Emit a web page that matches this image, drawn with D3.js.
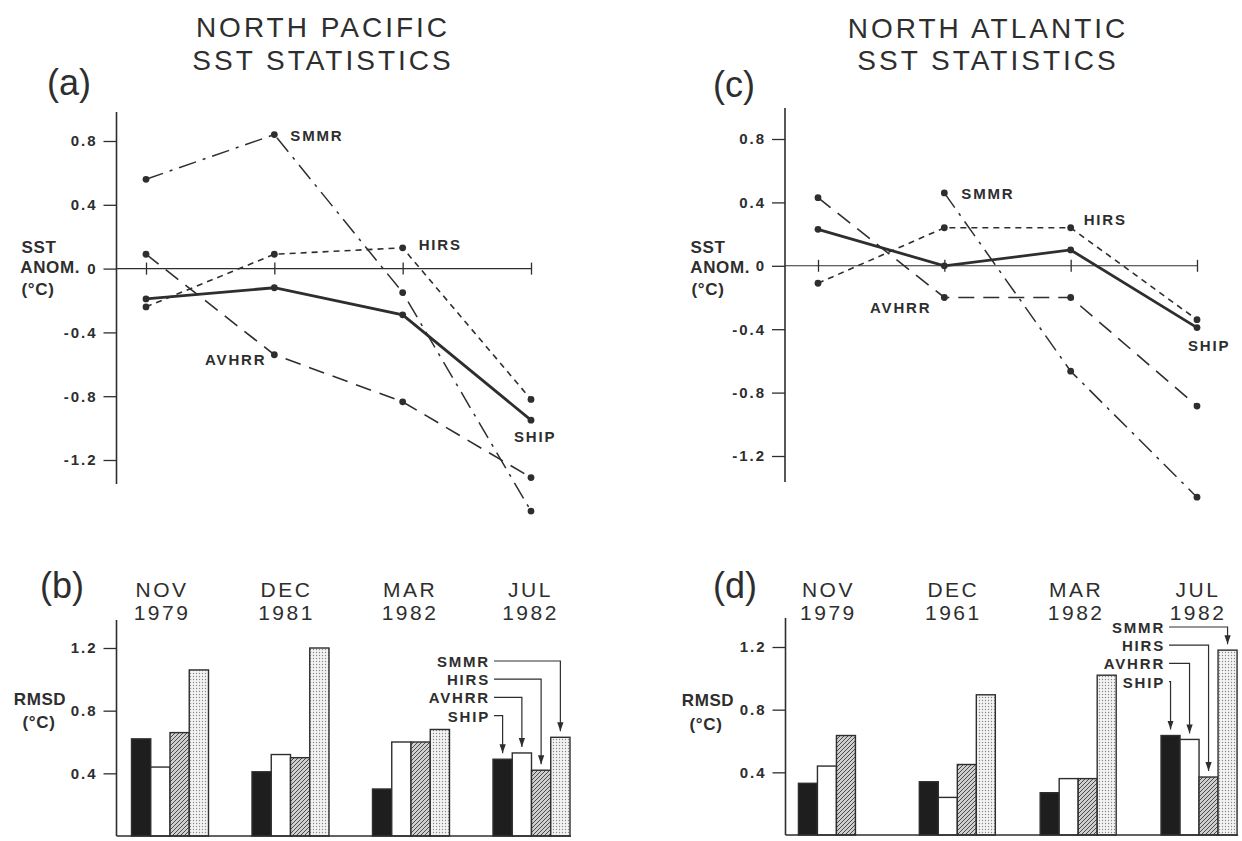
<!DOCTYPE html>
<html>
<head>
<meta charset="utf-8">
<style>
  body { margin: 0; background: #fff; }
  svg text { font-family: "Liberation Sans", Arial, sans-serif; fill: #2e2e2e; }
  .title { font-size: 28px; letter-spacing: 3px; }
  .panel { font-size: 36px; }
  .tick text { font-size: 15px; font-weight: bold; letter-spacing: 2px; }
  .tick line { stroke: #2e2e2e; stroke-width: 1.3px; }
  .lab { font-size: 15px; font-weight: bold; letter-spacing: 1.8px; }
  .axlab { font-size: 17px; font-weight: bold; letter-spacing: 0.6px; }
  .cat { font-size: 21px; letter-spacing: 2.5px; }
</style>
</head>
<body>
<script src="https://cdn.jsdelivr.net/npm/d3@7"></script>
<script>
  // categories
  var months = ["NOV", "DEC", "MAR", "JUL"];
  var yearsPac = ["1979", "1981", "1982", "1982"];
  var yearsAtl = ["1979", "1961", "1982", "1982"];   // as printed
  var sensors = ["SHIP", "AVHRR", "HIRS", "SMMR"];
  var lineTicks = [0.8, 0.4, 0, -0.4, -0.8, -1.2];
  var barTicks = [0.4, 0.8, 1.2];

  // SST anomaly (deg C), North Pacific
  var pacShip  = [-0.19, -0.12, -0.29, -0.95];
  var pacAvhrr = [0.09, -0.54, -0.835, -1.31];
  var pacHirs  = [-0.24, 0.09, 0.13, -0.82];
  var pacSmmr  = [0.56, 0.84, -0.15, -1.52];

  // SST anomaly (deg C), North Atlantic
  var atlShip  = [0.23, 0.0, 0.10, -0.39];
  var atlAvhrr = [0.43, -0.20, -0.20, -0.885];
  var atlHirs  = [-0.11, 0.24, 0.24, -0.34];
  var atlSmmr  = [null, 0.46, -0.665, -1.46];

  // RMSD (deg C), North Pacific
  var pacRmsdShip  = [0.62, 0.41, 0.30, 0.49];
  var pacRmsdAvhrr = [0.44, 0.52, 0.60, 0.53];
  var pacRmsdHirs  = [0.66, 0.50, 0.60, 0.42];
  var pacRmsdSmmr  = [1.06, 1.20, 0.68, 0.63];

  // RMSD (deg C), North Atlantic
  var atlRmsdShip  = [0.33, 0.34, 0.27, 0.635];
  var atlRmsdAvhrr = [0.44, 0.24, 0.36, 0.61];
  var atlRmsdHirs  = [0.635, 0.45, 0.36, 0.37];
  var atlRmsdSmmr  = [null, 0.895, 1.02, 1.18];

  var ink = "#2e2e2e";

  var svg = d3.select("body").append("svg")
      .attr("width", 1242)
      .attr("height", 841);

  var defs = svg.append("defs");

  var hatch = defs.append("pattern")
      .attr("id", "hatch")
      .attr("patternUnits", "userSpaceOnUse")
      .attr("width", 4).attr("height", 4);
  hatch.append("rect").attr("width", 4).attr("height", 4).attr("fill", "#cfcfcf");
  hatch.append("path")
      .attr("d", "M-1,1 l2,-2 M0,4 l4,-4 M3,5 l2,-2")
      .attr("stroke", "#4a4a4a").attr("stroke-width", 1);

  var dots = defs.append("pattern")
      .attr("id", "dots")
      .attr("patternUnits", "userSpaceOnUse")
      .attr("width", 3).attr("height", 3);
  dots.append("rect").attr("width", 3).attr("height", 3).attr("fill", "#f3f3f3");
  dots.append("circle").attr("cx", 1.5).attr("cy", 1.5).attr("r", 0.7).attr("fill", "#8a8a8a");

  defs.append("marker")
      .attr("id", "arrow")
      .attr("viewBox", "0 0 10 10")
      .attr("refX", 10).attr("refY", 5)
      .attr("markerWidth", 9).attr("markerHeight", 9)
      .attr("markerUnits", "userSpaceOnUse")
      .attr("orient", "auto")
    .append("path")
      .attr("d", "M0,1.5 L10,5 L0,8.5 Z")
      .attr("fill", ink);

  var lineStyle = {
    SHIP:  { w: 2.8, dash: null },
    AVHRR: { w: 1.6, dash: "16,9" },
    HIRS:  { w: 1.6, dash: "6,5" },
    SMMR:  { w: 1.5, dash: "18,7,3,7" }
  };
  var barFill = { SHIP: "#1e1e1e", AVHRR: "#ffffff", HIRS: "url(#hatch)", SMMR: "url(#dots)" };

  function tickFmt(d) {
    return d === 0 ? "0" : (d < 0 ? "-" : "") + Math.abs(d).toFixed(1);
  }

  function text(x, y, s, cls, anchor) {
    return svg.append("text")
      .attr("x", x).attr("y", y)
      .attr("class", cls)
      .attr("text-anchor", anchor || "middle")
      .text(s);
  }

  // ---------- line panels (a), (c) ----------
  function drawLines(cfg) {
    var x = d3.scalePoint().domain(months).range(cfg.xr);
    var y = d3.scaleLinear().domain([-1.2, 0.8]).range(cfg.yr);
    var g = svg.append("g");

    var ya = g.append("g")
        .attr("transform", "translate(" + cfg.ax + ",0)")
        .call(d3.axisLeft(y).tickValues(lineTicks).tickSizeInner(13).tickSizeOuter(0)
              .tickPadding(6).tickFormat(tickFmt));
    ya.select(".domain").remove();
    g.append("line")
        .attr("x1", cfg.ax).attr("x2", cfg.ax)
        .attr("y1", cfg.top).attr("y2", cfg.bottom)
        .attr("stroke", ink).attr("stroke-width", 1.6);

    // zero line with crossing ticks
    var xa = g.append("g")
        .attr("transform", "translate(0," + (y(0) - 6) + ")")
        .call(d3.axisBottom(x).tickSizeInner(12).tickSizeOuter(0).tickFormat(""));
    xa.select(".domain").remove();
    g.append("line")
        .attr("x1", cfg.ax).attr("x2", cfg.xr[1])
        .attr("y1", y(0)).attr("y2", y(0))
        .attr("stroke", ink).attr("stroke-width", 1.1);

    var line = d3.line()
        .defined(function (d) { return d != null; })
        .x(function (d, i) { return x(months[i]); })
        .y(function (d) { return y(d); });

    sensors.forEach(function (s) {
      var vals = cfg.series[s];
      g.append("path")
          .attr("d", line(vals))
          .attr("fill", "none")
          .attr("stroke", ink)
          .attr("stroke-width", lineStyle[s].w)
          .attr("stroke-dasharray", lineStyle[s].dash);
      g.selectAll(null)
          .data(vals.map(function (v, i) { return { m: months[i], v: v }; })
                    .filter(function (d) { return d.v != null; }))
        .join("circle")
          .attr("cx", function (d) { return x(d.m); })
          .attr("cy", function (d) { return y(d.v); })
          .attr("r", 3.4)
          .attr("fill", ink);

      var lb = cfg.labels[s];
      g.append("text")
          .attr("class", "lab")
          .attr("x", x(months[lb.i]) + lb.dx)
          .attr("y", y(vals[lb.i]) + lb.dy + 5)
          .attr("text-anchor", lb.anchor)
          .text(s);
    });
  }

  // ---------- bar panels (b), (d) ----------
  function drawBars(cfg) {
    var x = d3.scaleBand().domain(months).range(cfg.xr)
        .paddingInner(cfg.pi).paddingOuter(cfg.po);
    var xs = d3.scaleBand().domain(sensors).range([0, x.bandwidth()]);
    var y = d3.scaleLinear().domain([0, 1.2]).range(cfg.yr);
    var g = svg.append("g");

    sensors.forEach(function (s) {
      g.selectAll(null)
          .data(cfg.series[s].map(function (v, i) { return { m: months[i], v: v }; })
                    .filter(function (d) { return d.v != null; }))
        .join("rect")
          .attr("x", function (d) { return x(d.m) + xs(s); })
          .attr("y", function (d) { return y(d.v); })
          .attr("width", xs.bandwidth())
          .attr("height", function (d) { return y(0) - y(d.v); })
          .attr("fill", barFill[s])
          .attr("stroke", ink)
          .attr("stroke-width", 1.4);
    });

    var ya = g.append("g")
        .attr("transform", "translate(" + cfg.ax + ",0)")
        .call(d3.axisLeft(y).tickValues(barTicks).tickSizeInner(13).tickSizeOuter(0)
              .tickPadding(6).tickFormat(tickFmt));
    ya.select(".domain").remove();
    g.append("line")
        .attr("x1", cfg.ax).attr("x2", cfg.ax)
        .attr("y1", cfg.top).attr("y2", y(0))
        .attr("stroke", ink).attr("stroke-width", 1.6);
    g.append("line")
        .attr("x1", cfg.ax).attr("x2", x(months[3]) + x.bandwidth() + 1)
        .attr("y1", y(0)).attr("y2", y(0))
        .attr("stroke", ink).attr("stroke-width", 1.6);

    // category labels
    months.forEach(function (m, i) {
      var cx = x(m) + x.bandwidth() / 2 + cfg.catDx[i];
      text(cx, cfg.catY, m, "cat");
      text(cx, cfg.catY + 23, cfg.years[i], "cat");
    });

    // legend with arrows into the last group
    var last = months[3];
    var right = x(last) + cfg.legDx;
    sensors.slice().reverse().forEach(function (s, i) {
      var ly = cfg.legTop + i * 18.2;
      g.append("text")
          .attr("class", "lab")
          .attr("x", right).attr("y", ly + 5)
          .attr("text-anchor", "end")
          .text(s);
      var cx = x(last) + xs(s) + xs.bandwidth() / 2;
      g.append("path")
          .attr("d", "M" + (right + 4) + "," + (ly - 1) + "H" + cx + "V" + (y(cfg.series[s][3]) - 6))
          .attr("fill", "none")
          .attr("stroke", ink)
          .attr("stroke-width", 1.2)
          .attr("marker-end", "url(#arrow)");
    });
  }

  // titles and panel letters
  text(323, 37, "NORTH PACIFIC", "title");
  text(323, 70, "SST STATISTICS", "title");
  text(988, 38, "NORTH ATLANTIC", "title");
  text(988, 70, "SST STATISTICS", "title");
  text(47, 95, "(a)", "panel", "start");
  text(713, 97, "(c)", "panel", "start");
  text(40, 598, "(b)", "panel", "start");
  text(713, 598, "(d)", "panel", "start");

  // axis titles
  text(39, 253, "SST", "axlab");
  text(80, 273, "ANOM.", "axlab", "end");
  text(38, 295, "(°C)", "axlab");
  text(708, 253, "SST", "axlab");
  text(750, 273, "ANOM.", "axlab", "end");
  text(708, 295, "(°C)", "axlab");
  text(40, 705, "RMSD", "axlab");
  text(39, 728, "(°C)", "axlab");
  text(708, 706, "RMSD", "axlab");
  text(706, 730, "(°C)", "axlab");

  drawLines({
    ax: 116.5, top: 112, bottom: 484, xr: [146, 531], yr: [460, 141],
    series: { SHIP: pacShip, AVHRR: pacAvhrr, HIRS: pacHirs, SMMR: pacSmmr },
    labels: {
      SMMR:  { i: 1, dx: 16, dy: 1, anchor: "start" },
      HIRS:  { i: 2, dx: 16, dy: -3, anchor: "start" },
      AVHRR: { i: 1, dx: -8, dy: 5, anchor: "end" },
      SHIP:  { i: 3, dx: -17, dy: 17, anchor: "start" }
    }
  });

  drawLines({
    ax: 785, top: 108, bottom: 482, xr: [818, 1197], yr: [456, 139],
    series: { SHIP: atlShip, AVHRR: atlAvhrr, HIRS: atlHirs, SMMR: atlSmmr },
    labels: {
      SMMR:  { i: 1, dx: 17, dy: 1, anchor: "start" },
      HIRS:  { i: 2, dx: 13, dy: -8, anchor: "start" },
      AVHRR: { i: 1, dx: -13, dy: 10, anchor: "end" },
      SHIP:  { i: 3, dx: -9, dy: 18, anchor: "start" }
    }
  });

  drawBars({
    ax: 116.5, top: 620, xr: [116.5, 585], pi: 0.361, po: 0.1245, yr: [836, 648],
    series: { SHIP: pacRmsdShip, AVHRR: pacRmsdAvhrr, HIRS: pacRmsdHirs, SMMR: pacRmsdSmmr },
    years: yearsPac, catY: 597, catDx: [-8, -4, -1, -1],
    legTop: 662, legDx: -3
  });

  drawBars({
    ax: 785.5, top: 618, xr: [785.5, 1250], pi: 0.371, po: 0.107, yr: [835, 647],
    series: { SHIP: atlRmsdShip, AVHRR: atlRmsdAvhrr, HIRS: atlRmsdHirs, SMMR: atlRmsdSmmr },
    years: yearsAtl, catY: 597, catDx: [-8, -4, -2, -1],
    legTop: 628, legDx: 4
  });
</script>
</body>
</html>
